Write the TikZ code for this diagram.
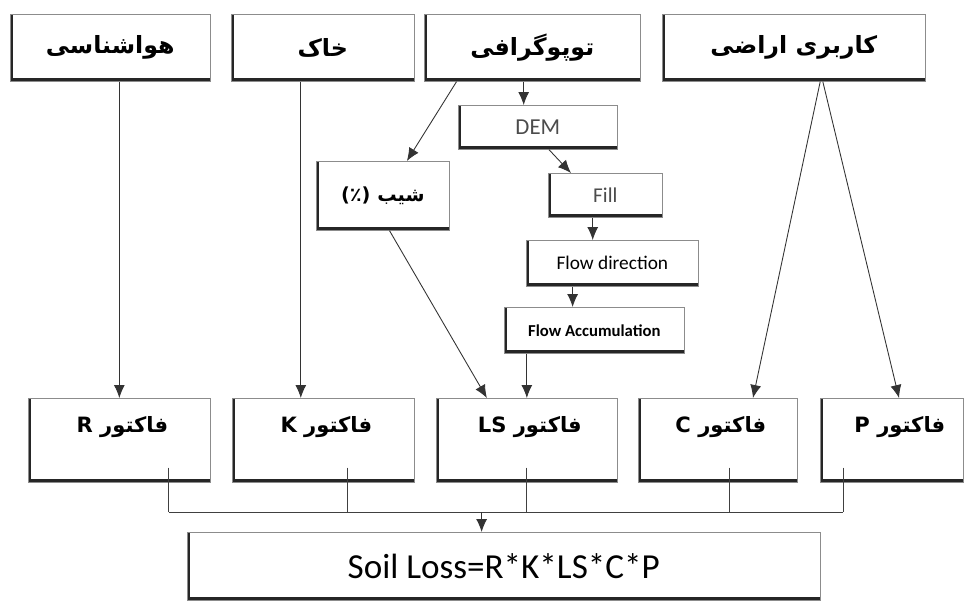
\documentclass[tikz,border=0pt]{standalone}
\usepackage{fontspec}
\setmainfont{Carlito}
\newfontfamily\fa[Script=Arabic]{DejaVu Sans}
\TeXXeTstate=1
\usetikzlibrary{calc,arrows.meta}

\tikzset{
  frame/.style={draw=black!45, line width=0.4pt, fill=white, anchor=north west, inner sep=0pt,
    path picture={\draw[line width=3.4pt, black!85] (path picture bounding box.north west) -- (path picture bounding box.south west) -- (path picture bounding box.south east);}},
  arr/.style={draw=black!80, line width=0.5pt, -{Latex[length=2.6mm,width=2.2mm]}},
  wire/.style={draw=black!75, line width=0.5pt},
  fatext/.style={font=\fa\bfseries\fontsize{12}{14}\selectfont},
  fatop/.style={font=\fa\bfseries\fontsize{13.5}{15}\selectfont},
}

\begin{document}
\begin{tikzpicture}[x=0.02cm, y=-0.02cm]
	%%%%% BOXES %%%%%
	\useasboundingbox (0,0) rectangle (969,601);
	
	\node[frame, minimum width=4cm, minimum height=1.34cm, fatop] (met) at (10,14) {\beginR هواشناسی\endR};
	\node[frame, minimum width=3.66cm, minimum height=1.34cm, fatop] (soil) at (231,14) {\beginR خاک\endR};
	\node[frame, minimum width=4.32cm, minimum height=1.34cm, fatop] (topo) at (424,14) {\beginR توپوگرافی\endR};
	\node[frame, minimum width=5.26cm, minimum height=1.34cm, fatop] (land) at (662,14) {\beginR کاربری اراضی\endR};
	
	\node[frame, minimum width=3.18cm, minimum height=0.88cm, font=\fontsize{13}{15}\selectfont, text=black!70] (dem) at (458,105) {DEM};
	\node[frame, minimum width=2.28cm, minimum height=0.88cm, font=\fontsize{12}{14}\selectfont, text=black!70] (fill) at (548,173) {Fill};
	\node[frame, minimum width=2.66cm, minimum height=1.38cm, font=\fa\bfseries\fontsize{11}{13}\selectfont] (slope) at (316,161) {\beginR شیب \beginL(٪)\endL\endR};
	\node[frame, minimum width=3.44cm, minimum height=0.92cm, font=\fontsize{11}{13}\selectfont] (fdir) at (526,240) {Flow direction};
	\node[frame, minimum width=3.6cm, minimum height=0.92cm, font=\bfseries\fontsize{9.5}{11}\selectfont] (facc) at (504,307) {Flow Accumulation};
	
	\node[frame, minimum width=3.64cm, minimum height=1.68cm] (R) at (28,398) {};
	\node[frame, minimum width=3.64cm, minimum height=1.68cm] (K) at (232,398) {};
	\node[frame, minimum width=3.62cm, minimum height=1.68cm] (LS) at (436,398) {};
	\node[frame, minimum width=3.18cm, minimum height=1.68cm] (C) at (638,398) {};
	\node[frame, minimum width=2.86cm, minimum height=1.68cm] (P) at (820,398) {};
	
	\node[fatext] (lR) at ($(R.north)+(3,29)$) {\beginR فاکتور R\endR};
	\node[fatext] (lK) at ($(K.north)+(3,29)$) {\beginR فاکتور K\endR};
	\node[fatext] (lLS) at ($(LS.north)+(3,29)$) {\beginR فاکتور \beginL LS\endL\endR};
	\node[fatext] (lC) at ($(C.north)+(3,29)$) {\beginR فاکتور C\endR};
	\node[fatext] (lP) at ($(P.north)+(8,29)$) {\beginR فاکتور P\endR};
	
	\node[frame, minimum width=12.66cm, minimum height=1.36cm, font=\fontsize{20}{24}\selectfont] (loss) at (187,532) {Soil Loss=R*K*LS*C*P};
	
	%%%%% ARROWS %%%%%
	\draw[arr] (met.south -| R.north) -- (R.north);
	\coordinate (s1) at ($(soil.south west)!0.38!(soil.south east)$);
	\draw[arr] (s1) -- (s1 |- K.north);
	
	\coordinate (t1) at ($(topo.south west)!0.46!(topo.south east)$);
	\draw[arr] (t1) -- (t1 |- dem.north);
	\draw[arr] ($(topo.south west)!0.15!(topo.south east)$) -- ($(slope.north west)!0.68!(slope.north east)$);
	\draw[arr] ($(dem.south west)!0.57!(dem.south east)$) -- ($(fill.north west)!0.2!(fill.north east)$);
	\coordinate (f1) at ($(fill.south west)!0.39!(fill.south east)$);
	\draw[arr] (f1) -- (f1 |- fdir.north);
	\coordinate (d1) at ($(fdir.south west)!0.27!(fdir.south east)$);
	\draw[arr] (d1) -- (d1 |- facc.north);
	\draw[arr] (facc.south -| LS.north) -- (LS.north);
	\draw[arr] ($(slope.south west)!0.55!(slope.south east)$) -- ($(LS.north west)!0.28!(LS.north east)$);
	
	\draw[arr] ($(land.south west)!0.6!(land.south east)$) -- ($(C.north west)!0.72!(C.north east)$);
	\draw[arr] ($(land.south west)!0.61!(land.south east)$) -- ($(P.north west)!0.55!(P.north east)$);
	
	%%%%% BUS %%%%%
	\coordinate (bus) at (0,512);
	\foreach \b/\f in {R/0.77,K/0.63,LS/0.5,C/0.57,P/0.16} {
		\coordinate (t\b) at ($(\b.south west)!\f!(\b.south east)$);
		\draw[wire] ([yshift=0.3cm]t\b) -- (t\b |- bus);
	}
	\draw[wire] (tR |- bus) -- (tP |- bus);
	\coordinate (bL) at ($(loss.north west)!0.465!(loss.north east)$);
	\draw[arr] (bL |- bus) -- (bL);
\end{tikzpicture}
\end{document}
